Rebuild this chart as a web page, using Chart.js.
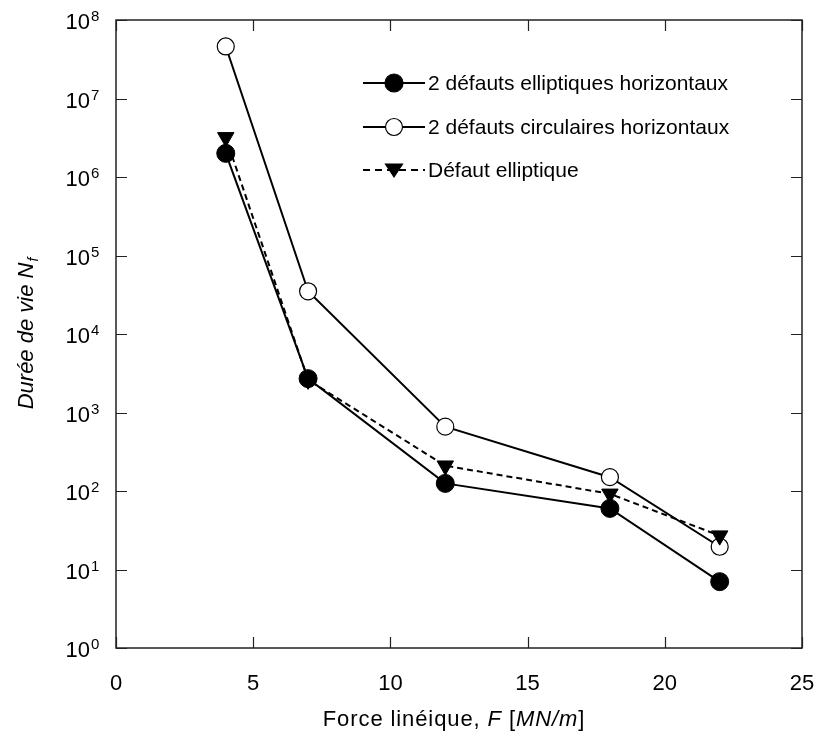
<!DOCTYPE html>
<html>
<head>
<meta charset="utf-8">
<script src="https://cdn.jsdelivr.net/npm/chart.js@4"></script>
<style>
  html, body { margin: 0; padding: 0; background: #fff; }
  #wrap { width: 817px; height: 738px; }
</style>
</head>
<body>
<div id="wrap"><canvas id="nfChart" width="817" height="738"></canvas></div>
<script>
// data
var force = [4, 7, 12, 18, 22];
var ellip2 = [2.0e6, 2.7e3, 125, 60, 7];       // 2 défauts elliptiques horizontaux
var circ2 = [4.6e7, 3.5e4, 660, 150, 19.5];    // 2 défauts circulaires horizontaux
var ellip1 = [3.2e6, 2.6e3, 210, 92, 27];      // Défaut elliptique
var xTicks = [0, 5, 10, 15, 20, 25];
var yTicks = [1, 10, 100, 1e3, 1e4, 1e5, 1e6, 1e7, 1e8];

var FONT = '"Liberation Sans", Arial, sans-serif';

function pts(ys) {
    return force.map(function (f, i) { return { x: f, y: ys[i] }; });
}

var legendItems = [
    { text: '2 défauts elliptiques horizontaux', style: 'circle', fill: '#000', dash: [] },
    { text: '2 défauts circulaires horizontaux', style: 'circle', fill: '#fff', dash: [] },
    { text: 'Défaut elliptique', style: 'triangle', fill: '#000', dash: [7, 5] }
];

function drawMarker(ctx, style, fill, x, y) {
    ctx.save();
    ctx.setLineDash([]);
    ctx.fillStyle = fill;
    ctx.strokeStyle = '#000';
    ctx.lineWidth = 1.2;
    ctx.beginPath();
    if (style === 'circle') {
        ctx.arc(x, y, fill === '#fff' ? 8.5 : 9, 0, Math.PI * 2);
    } else {
        ctx.moveTo(x - 8.5, y - 6);
        ctx.lineTo(x + 8.5, y - 6);
        ctx.lineTo(x, y + 7);
        ctx.closePath();
    }
    ctx.fill();
    ctx.stroke();
    ctx.restore();
}

var framePlugin = {
    id: 'frame',
    beforeDatasetsDraw: function (chart) {
        var ctx = chart.ctx, a = chart.chartArea;
        var xs = chart.scales.x, ys = chart.scales.y;
        ctx.save();
        ctx.strokeStyle = '#222';
        ctx.lineWidth = 1.5;
        ctx.strokeRect(a.left, a.top, a.right - a.left, a.bottom - a.top);
        ctx.lineWidth = 1.2;
        ctx.beginPath();
        xTicks.forEach(function (v) {
            var px = Math.round(xs.getPixelForValue(v)) + 0.5;
            ctx.moveTo(px, a.bottom); ctx.lineTo(px, a.bottom - 11);
            ctx.moveTo(px, a.top); ctx.lineTo(px, a.top + 11);
        });
        yTicks.forEach(function (v) {
            var py = Math.round(ys.getPixelForValue(v)) + 0.5;
            ctx.moveTo(a.left, py); ctx.lineTo(a.left + 11, py);
            ctx.moveTo(a.right, py); ctx.lineTo(a.right - 11, py);
        });
        ctx.stroke();

        // y tick labels as 10 with a raised exponent
        ctx.fillStyle = '#000';
        ctx.textBaseline = 'alphabetic';
        yTicks.forEach(function (v) {
            var py = ys.getPixelForValue(v);
            var e = Math.round(Math.log10(v));
            ctx.font = '22px ' + FONT;
            ctx.textAlign = 'right';
            ctx.fillText('10', a.left - 26, py + 9);
            ctx.font = '15px ' + FONT;
            ctx.textAlign = 'left';
            ctx.fillText(String(e), a.left - 25, py + 1);
        });
        ctx.restore();
    },
    afterDraw: function (chart) {
        var ctx = chart.ctx, a = chart.chartArea;
        ctx.save();
        // legend
        var rows = [83, 127, 170];
        legendItems.forEach(function (it, i) {
            var y = rows[i];
            ctx.strokeStyle = '#000';
            ctx.lineWidth = 2;
            ctx.setLineDash(it.dash);
            ctx.beginPath();
            ctx.moveTo(363, y); ctx.lineTo(425, y);
            ctx.stroke();
            drawMarker(ctx, it.style, it.fill, 394, y);
            ctx.fillStyle = '#000';
            ctx.font = '21px ' + FONT;
            ctx.textAlign = 'left';
            ctx.textBaseline = 'middle';
            ctx.fillText(it.text, 428, y + 1);
        });

        // x title, mixed italic
        ctx.letterSpacing = '0.9px';
        var parts = [['Force linéique, ', ''], ['F', 'italic '], [' [', ''], ['MN/m', 'italic '], [']', '']];
        var total = 0;
        parts.forEach(function (p) { ctx.font = p[1] + '22px ' + FONT; total += ctx.measureText(p[0]).width; });
        var x = 454 - total / 2;
        ctx.textAlign = 'left';
        ctx.textBaseline = 'alphabetic';
        parts.forEach(function (p) {
            ctx.font = p[1] + '22px ' + FONT;
            ctx.fillText(p[0], x, 726);
            x += ctx.measureText(p[0]).width;
        });
        ctx.letterSpacing = '0px';

        // y title with subscript
        ctx.translate(33, (a.top + a.bottom) / 2);
        ctx.rotate(-Math.PI / 2);
        ctx.font = 'italic 22px ' + FONT;
        var main = 'Durée de vie N';
        var w1 = ctx.measureText(main).width;
        ctx.font = 'italic 14px ' + FONT;
        var w2 = ctx.measureText('f').width;
        var x0 = -(w1 + w2) / 2;
        ctx.font = 'italic 22px ' + FONT;
        ctx.fillText(main, x0, 0);
        ctx.font = 'italic 14px ' + FONT;
        ctx.fillText('f', x0 + w1 + 1, 5);
        ctx.restore();
    }
};

var ctx1 = document.getElementById('nfChart').getContext('2d');
var nfChart = new Chart(ctx1, {
    type: 'line',
    data: {
        datasets: [{
            label: '2 défauts elliptiques horizontaux',
            data: pts(ellip2),
            borderColor: '#000',
            borderWidth: 2,
            pointStyle: 'circle',
            pointRadius: 9,
            pointBackgroundColor: '#000',
            pointBorderColor: '#000',
            pointBorderWidth: 1,
            fill: false
        }, {
            label: 'Défaut elliptique',
            data: pts(ellip1),
            borderColor: '#000',
            borderWidth: 2,
            borderDash: [6, 4],
            pointStyle: 'triangle',
            pointRotation: 180,
            pointRadius: 9.5,
            pointBackgroundColor: '#000',
            pointBorderColor: '#000',
            pointBorderWidth: 1,
            fill: false
        }, {
            label: '2 défauts circulaires horizontaux',
            data: pts(circ2),
            borderColor: '#000',
            borderWidth: 2,
            pointStyle: 'circle',
            pointRadius: 8.5,
            pointBackgroundColor: '#fff',
            pointBorderColor: '#000',
            pointBorderWidth: 1.2,
            fill: false
        }]
    },
    options: {
        responsive: false,
        animation: false,
        events: [],
        layout: { padding: { top: 20, right: 15, left: 0, bottom: 0 } },
        plugins: {
            legend: { display: false },
            tooltip: { enabled: false }
        },
        scales: {
            x: {
                type: 'linear',
                min: 0,
                max: 25,
                afterBuildTicks: function (scale) {
                    scale.ticks = xTicks.map(function (v) { return { value: v }; });
                },
                afterFit: function (scale) {
                    scale.height = 90;
                    scale.paddingLeft = 0;
                    scale.paddingRight = 0;
                },
                grid: { display: false, drawTicks: false },
                border: { display: false },
                ticks: {
                    color: '#000',
                    padding: 23,
                    maxRotation: 0,
                    font: { family: FONT, size: 22 }
                }
            },
            y: {
                type: 'logarithmic',
                min: 1,
                max: 1e8,
                afterBuildTicks: function (scale) {
                    scale.ticks = yTicks.map(function (v) { return { value: v }; });
                },
                afterFit: function (scale) {
                    scale.width = 116;
                    scale.paddingTop = 0;
                    scale.paddingBottom = 0;
                },
                grid: { display: false, drawTicks: false },
                border: { display: false },
                ticks: { display: false }
            }
        }
    },
    plugins: [framePlugin]
});
</script>
</body>
</html>
